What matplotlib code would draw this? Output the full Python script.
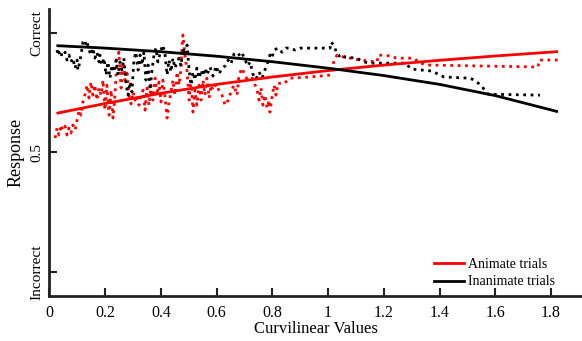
"""
Response vs curvilinear values, animate vs inanimate trials.
Saves out.png
"""
import matplotlib
matplotlib.use("Agg")
import matplotlib.pyplot as plt

plt.rcParams["font.family"] = ["Liberation Serif", "DejaVu Serif"]

# ── Data ──────────────────────────────────────────────────────────────────────
# running average, inanimate trials (black dotted)
inanimate_x = [0.027, 0.031, 0.034, 0.041, 0.045, 0.048, 0.056, 0.063, 0.070, 0.077,
               0.084, 0.092, 0.099, 0.102, 0.109, 0.117, 0.120, 0.127, 0.131, 0.135,
               0.142, 0.149, 0.156, 0.163, 0.170, 0.178, 0.181, 0.188, 0.196, 0.203,
               0.210, 0.217, 0.224, 0.231, 0.239, 0.246, 0.253, 0.260, 0.267, 0.275,
               0.282, 0.289, 0.296, 0.303, 0.310, 0.318, 0.325, 0.332, 0.339, 0.346,
               0.354, 0.361, 0.368, 0.375, 0.382, 0.389, 0.400, 0.407, 0.415, 0.422,
               0.429, 0.436, 0.443, 0.450, 0.458, 0.465, 0.472, 0.479, 0.486, 0.494,
               0.501, 0.508, 0.515, 0.522, 0.529, 0.537, 0.544, 0.551, 0.558, 0.565,
               0.576, 0.587, 0.598, 0.608, 0.619, 0.630, 0.641, 0.651, 0.662, 0.673,
               0.684, 0.691, 0.702, 0.712, 0.720, 0.730, 0.741, 0.752, 0.763, 0.773,
               0.784, 0.791, 0.798, 0.806, 0.820, 0.834, 0.849, 0.863, 0.881, 0.899,
               1.007, 1.010, 1.021, 1.029, 1.039, 1.050, 1.061, 1.104, 1.115, 1.129,
               1.150, 1.276, 1.287, 1.301, 1.373, 1.394, 1.416, 1.509, 1.524, 1.538,
               1.552, 1.563, 1.574, 1.760]
inanimate_y = [0.929, 0.908, 0.920, 0.899, 0.916, 0.908, 0.920, 0.887, 0.908, 0.879,
               0.895, 0.853, 0.887, 0.845, 0.879, 0.937, 0.962, 0.971, 0.950, 0.962,
               0.929, 0.908, 0.937, 0.895, 0.920, 0.879, 0.908, 0.866, 0.895, 0.824,
               0.879, 0.811, 0.866, 0.837, 0.887, 0.824, 0.879, 0.845, 0.895, 0.782,
               0.740, 0.795, 0.753, 0.887, 0.920, 0.845, 0.908, 0.866, 0.920, 0.803,
               0.866, 0.761, 0.845, 0.908, 0.937, 0.879, 0.929, 0.950, 0.908, 0.824,
               0.887, 0.837, 0.895, 0.853, 0.879, 0.895, 0.862, 0.937, 0.908, 0.950,
               0.845, 0.782, 0.837, 0.803, 0.853, 0.811, 0.845, 0.820, 0.853, 0.824,
               0.858, 0.820, 0.862, 0.828, 0.853, 0.862, 0.887, 0.870, 0.912, 0.920,
               0.904, 0.916, 0.887, 0.862, 0.879, 0.828, 0.807, 0.837, 0.811, 0.845,
               0.879, 0.908, 0.895, 0.929, 0.937, 0.920, 0.937, 0.937, 0.929, 0.937,
               0.937, 0.962, 0.950, 0.920, 0.904, 0.912, 0.899, 0.895, 0.887, 0.879,
               0.874, 0.874, 0.862, 0.849, 0.841, 0.828, 0.816, 0.811, 0.803, 0.791,
               0.778, 0.757, 0.744, 0.740]

# running average, animate trials (red dotted)
animate_x = [0.020, 0.027, 0.034, 0.041, 0.048, 0.056, 0.063, 0.070, 0.077, 0.084,
             0.092, 0.099, 0.106, 0.113, 0.120, 0.127, 0.135, 0.142, 0.149, 0.156,
             0.163, 0.170, 0.178, 0.185, 0.192, 0.199, 0.206, 0.214, 0.221, 0.228,
             0.235, 0.242, 0.249, 0.257, 0.264, 0.271, 0.278, 0.285, 0.293, 0.300,
             0.307, 0.314, 0.321, 0.328, 0.336, 0.343, 0.350, 0.357, 0.364, 0.371,
             0.379, 0.386, 0.393, 0.400, 0.407, 0.415, 0.422, 0.429, 0.436, 0.443,
             0.450, 0.458, 0.465, 0.472, 0.476, 0.479, 0.486, 0.494, 0.501, 0.508,
             0.515, 0.522, 0.529, 0.537, 0.544, 0.551, 0.558, 0.565, 0.573, 0.580,
             0.587, 0.598, 0.608, 0.619, 0.630, 0.641, 0.651, 0.662, 0.673, 0.680,
             0.691, 0.702, 0.712, 0.727, 0.738, 0.745, 0.752, 0.759, 0.766, 0.773,
             0.781, 0.788, 0.791, 0.798, 0.806, 0.813, 0.820, 0.838, 0.856, 0.863,
             0.935, 1.007, 1.014, 1.021, 1.032, 1.057, 1.079, 1.115, 1.176, 1.179,
             1.229, 1.244, 1.308, 1.323, 1.351, 1.366, 1.753, 1.757, 1.825]
animate_y = [0.560, 0.602, 0.573, 0.615, 0.594, 0.610, 0.573, 0.602, 0.581, 0.615,
             0.594, 0.636, 0.677, 0.656, 0.711, 0.740, 0.782, 0.728, 0.795, 0.740,
             0.782, 0.719, 0.770, 0.740, 0.803, 0.677, 0.782, 0.656, 0.761, 0.644,
             0.740, 0.887, 0.920, 0.770, 0.879, 0.803, 0.845, 0.740, 0.703, 0.753,
             0.719, 0.740, 0.698, 0.740, 0.761, 0.677, 0.770, 0.698, 0.782, 0.719,
             0.811, 0.740, 0.795, 0.711, 0.803, 0.728, 0.644, 0.711, 0.753, 0.803,
             0.740, 0.837, 0.782, 0.853, 0.950, 0.992, 0.908, 0.837, 0.719, 0.803,
             0.669, 0.761, 0.698, 0.782, 0.719, 0.803, 0.740, 0.811, 0.728, 0.782,
             0.761, 0.786, 0.761, 0.740, 0.698, 0.719, 0.753, 0.782, 0.740, 0.824,
             0.853, 0.820, 0.803, 0.811, 0.782, 0.761, 0.719, 0.770, 0.698, 0.740,
             0.686, 0.719, 0.669, 0.728, 0.782, 0.740, 0.791, 0.786, 0.803, 0.811,
             0.816, 0.824, 0.837, 0.887, 0.908, 0.899, 0.895, 0.887, 0.879, 0.908,
             0.904, 0.895, 0.895, 0.879, 0.866, 0.866, 0.858, 0.887, 0.887]

# fitted trends (solid lines)
fit_x = [0.03, 0.2, 0.4, 0.6, 0.8, 1.0, 1.2, 1.4, 1.6, 1.82]
animate_fit = [0.665, 0.705, 0.748, 0.785, 0.816, 0.843, 0.866, 0.886, 0.904, 0.922]
inanimate_fit = [0.947, 0.937, 0.922, 0.903, 0.880, 0.853, 0.822, 0.785, 0.738, 0.672]

xticks = [0, 0.2, 0.4, 0.6, 0.8, 1.0, 1.2, 1.4, 1.6, 1.8]
xtick_labels = ["0", "0.2", "0.4", "0.6", "0.8", "1", "1.2", "1.4", "1.6", "1.8"]
yticks = [0, 0.5, 1]
ytick_labels = ["Incorrect", "0.5", "Correct"]

RED = "#ff0000"
BLACK = "#000000"


# ── Plot ──────────────────────────────────────────────────────────────────────
fig = plt.figure(figsize=(5.82, 3.41), dpi=100)
ax = fig.add_axes([0.085, 0.133, 0.915, 0.840])

ax.plot(animate_x, animate_y, ls=":", color=RED, lw=2)
ax.plot(inanimate_x, inanimate_y, ls=":", color=BLACK, lw=2)
ax.plot(fit_x, animate_fit, color=RED, lw=2, label="Animate trials")
ax.plot(fit_x, inanimate_fit, color=BLACK, lw=2, label="Inanimate trials")

ax.set_xlim(0, 1.911)
ax.set_ylim(-0.1, 1.1)
ax.set_xticks(xticks)
ax.set_xticklabels(xtick_labels, fontsize=11.5)
ax.set_yticks(yticks)
ax.set_yticklabels(ytick_labels, fontsize=11, rotation=90, va="center")
ax.tick_params(direction="in", length=6, width=1.5, color="#222222")
ax.tick_params(axis="x", pad=6.5)
ax.tick_params(axis="y", pad=4.5)
ax.set_xlabel("Curvilinear Values", fontsize=12, labelpad=0)
ax.set_ylabel("Response", fontsize=13, labelpad=4)

for side in ["top", "right"]:
    ax.spines[side].set_visible(False)
for side in ["left", "bottom"]:
    ax.spines[side].set_linewidth(2)
    ax.spines[side].set_color("#222222")

ax.legend(loc="lower right", bbox_to_anchor=(0.95, 0.025), frameon=False,
          fontsize=10, handlelength=2.2, handletextpad=0.3, labelspacing=0.3,
          borderpad=0, borderaxespad=0)

plt.savefig("out.png", dpi=100)
plt.close()
